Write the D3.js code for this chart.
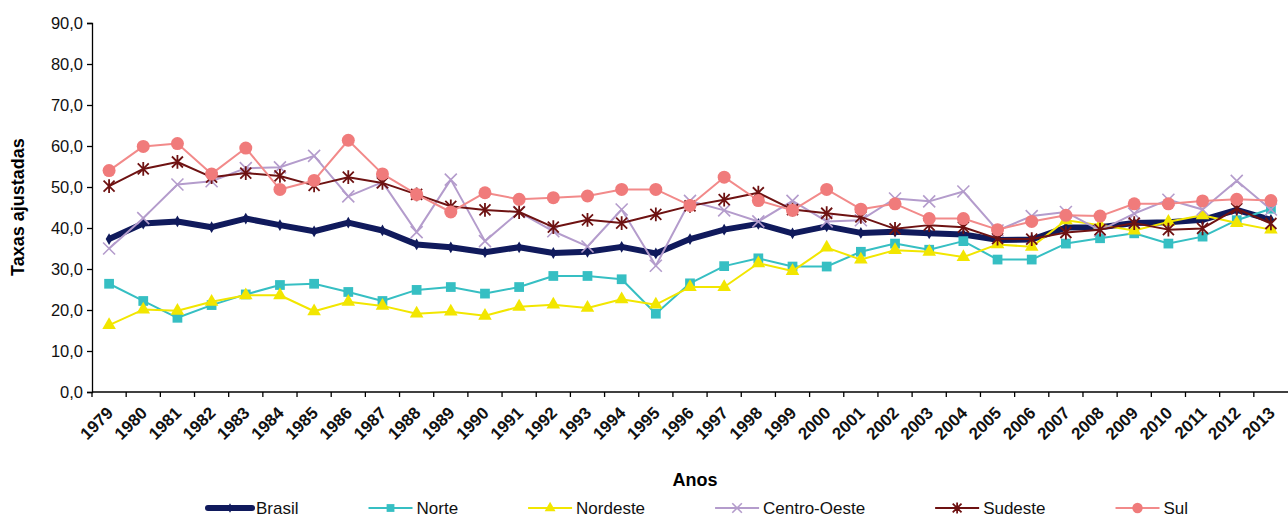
<!DOCTYPE html>
<html>
<head>
<meta charset="utf-8">
<script src="https://cdn.jsdelivr.net/npm/d3@7"></script>
<style>
  body { margin: 0; background: #fff; }
  svg { display: block; font-family: "Liberation Sans", Arial, sans-serif; }
</style>
</head>
<body>
<svg id="chart" width="1288" height="517"></svg>
<script>
// values
const years = ["1979","1980","1981","1982","1983","1984","1985","1986","1987","1988",
  "1989","1990","1991","1992","1993","1994","1995","1996","1997","1998","1999","2000",
  "2001","2002","2003","2004","2005","2006","2007","2008","2009","2010","2011","2012","2013"];

const brasil = [37.3, 41.1, 41.6, 40.2, 42.3, 40.7, 39.2, 41.3, 39.4, 36.0, 35.3, 34.1, 35.3, 33.9, 34.2, 35.4, 33.8,
  37.3, 39.6, 41.0, 38.7, 40.4, 38.8, 39.1, 38.7, 38.4, 37.1, 37.2, 40.1, 40.2, 41.2, 41.4, 42.0, 44.4, 42.0];
const norte = [26.4, 22.2, 18.1, 21.2, 23.8, 26.1, 26.4, 24.4, 22.2, 24.9, 25.6, 24.0, 25.6, 28.3, 28.3, 27.5, 19.1,
  26.5, 30.7, 32.6, 30.6, 30.6, 34.2, 36.2, 34.7, 36.8, 32.3, 32.3, 36.2, 37.5, 38.7, 36.2, 37.9, 41.9, 44.7];
const nordeste = [16.3, 20.1, 19.8, 22.0, 23.6, 23.6, 19.7, 22.0, 21.0, 19.1, 19.6, 18.6, 20.8, 21.3, 20.5, 22.6, 21.3,
  25.6, 25.6, 31.4, 29.5, 35.2, 32.3, 34.6, 34.2, 32.9, 36.0, 35.4, 41.9, 40.7, 39.4, 41.5, 43.1, 41.2, 39.6];
const centroOeste = [35.0, 42.4, 50.6, 51.4, 54.6, 54.8, 57.6, 47.7, 51.2, 39.0, 51.8, 36.8, 43.9, 39.2, 35.5, 44.5, 30.8,
  46.6, 44.3, 41.6, 46.6, 41.6, 41.9, 47.2, 46.5, 48.9, 39.4, 42.9, 43.9, 39.4, 43.5, 46.9, 44.5, 51.5, 44.5];
const sudeste = [50.2, 54.4, 56.1, 52.4, 53.4, 52.7, 50.4, 52.4, 51.0, 48.2, 45.3, 44.4, 43.9, 40.2, 42.0, 41.2, 43.3,
  45.4, 46.9, 48.6, 44.5, 43.6, 42.7, 39.8, 40.7, 40.2, 37.4, 37.3, 38.9, 39.6, 41.2, 39.6, 39.9, 44.7, 41.1];
const sul = [54.0, 59.9, 60.6, 53.2, 59.5, 49.4, 51.6, 61.4, 53.2, 48.2, 43.9, 48.6, 47.0, 47.4, 47.8, 49.4, 49.4,
  45.5, 52.4, 46.7, 44.3, 49.4, 44.6, 45.9, 42.3, 42.3, 39.6, 41.6, 43.1, 42.9, 45.9, 45.9, 46.6, 47.0, 46.7];

const yTicks = [0, 10, 20, 30, 40, 50, 60, 70, 80, 90];

const series = [
  { name: "Brasil", values: brasil, color: "#101a5c", width: 6, marker: "diamond" },
  { name: "Norte", values: norte, color: "#36bfc3", width: 2, marker: "square" },
  { name: "Nordeste", values: nordeste, color: "#f2e600", width: 2, marker: "triangle" },
  { name: "Centro-Oeste", values: centroOeste, color: "#b49ccc", width: 2, marker: "x" },
  { name: "Sudeste", values: sudeste, color: "#6e1212", width: 2, marker: "star" },
  { name: "Sul", values: sul, color: "#f07b7b", width: 2, marker: "circle" }
];

const svg = d3.select("#chart");
const plotLeft = 92, plotRight = 1288, plotTop = 23, plotBottom = 392;

const x = d3.scaleBand().domain(years).range([plotLeft, plotRight]);
const y = d3.scaleLinear().domain([0, 90]).range([plotBottom, plotTop]);
const cx = d => x(d) + x.bandwidth() / 2;

const br = d3.formatLocale({ decimal: ",", thousands: ".", grouping: [3], currency: ["R$", ""] });
const fmt = br.format(".1f");

// y axis
const yAxis = svg.append("g")
  .attr("transform", `translate(${plotLeft},0)`)
  .call(d3.axisLeft(y).tickValues(yTicks).tickFormat(fmt).tickSize(5).tickPadding(4));
yAxis.select(".domain").attr("stroke", "#000").attr("stroke-width", 1.3);
yAxis.selectAll(".tick line").attr("stroke", "#000").attr("stroke-width", 1.3);
yAxis.selectAll("text").attr("font-size", 16.5).attr("fill", "#111").attr("font-family", "Liberation Sans, Arial");

// x axis: ticks between categories, labels rotated
const xAxis = svg.append("g").attr("transform", `translate(0,${plotBottom})`);
xAxis.append("line").attr("x1", plotLeft).attr("x2", plotRight).attr("stroke", "#000").attr("stroke-width", 1.3);
xAxis.selectAll("line.tk")
  .data(years)
  .join("line")
  .attr("class", "tk")
  .attr("x1", d => x(d)).attr("x2", d => x(d))
  .attr("y1", 0).attr("y2", 5)
  .attr("stroke", "#000").attr("stroke-width", 1.3);
xAxis.selectAll("text")
  .data(years)
  .join("text")
  .attr("transform", d => `translate(${cx(d) + 5},22) rotate(-45)`)
  .attr("text-anchor", "end")
  .attr("font-size", 17)
  .attr("font-weight", "bold")
  .attr("fill", "#111")
  .text(d => d);

// axis titles
svg.append("text")
  .attr("x", 695).attr("y", 486)
  .attr("text-anchor", "middle")
  .attr("font-size", 18).attr("font-weight", "bold")
  .text("Anos");
svg.append("text")
  .attr("transform", "translate(24,207) rotate(-90)")
  .attr("text-anchor", "middle")
  .attr("font-size", 18).attr("font-weight", "bold")
  .text("Taxas ajustadas");

// marker drawing
function drawMarker(g, s, scale) {
  const k = scale || 1;
  if (s.marker === "diamond") {
    g.append("path").attr("d", d3.symbol(d3.symbolDiamond, 40 * k * k)()).attr("fill", s.color);
  } else if (s.marker === "square") {
    g.append("path").attr("d", d3.symbol(d3.symbolSquare, 95 * k * k)()).attr("fill", s.color);
  } else if (s.marker === "triangle") {
    g.append("path").attr("d", d3.symbol(d3.symbolTriangle, 80 * k * k)()).attr("fill", s.color);
  } else if (s.marker === "circle") {
    g.append("circle").attr("r", 6.5 * k).attr("fill", s.color);
  } else if (s.marker === "x") {
    const r = 6 * k;
    g.append("path").attr("d", `M${-r},${-r}L${r},${r}M${-r},${r}L${r},${-r}`)
      .attr("stroke", s.color).attr("stroke-width", 1.6).attr("fill", "none");
  } else if (s.marker === "star") {
    const r = 5.5 * k;
    g.append("path").attr("d", `M${-r},${-r}L${r},${r}M${-r},${r}L${r},${-r}M0,${-r * 1.25}L0,${r * 1.25}`)
      .attr("stroke", s.color).attr("stroke-width", 1.8).attr("fill", "none");
  }
}

const line = d3.line().x((v, i) => cx(years[i])).y(v => y(v));

series.forEach(s => {
  const g = svg.append("g");
  g.append("path")
    .attr("d", line(s.values))
    .attr("fill", "none")
    .attr("stroke", s.name === "Sul" ? "#f28a8a" : s.color)
    .attr("stroke-width", s.width)
    .attr("stroke-linejoin", "round");
  s.values.forEach((v, i) => {
    const m = g.append("g").attr("transform", `translate(${cx(years[i])},${y(v)})`);
    drawMarker(m, s);
  });
});

// legend
const legendY = 508;
let lx = 208;
series.forEach(s => {
  const g = svg.append("g").attr("transform", `translate(${lx},${legendY})`);
  g.append("line").attr("x1", 0).attr("x2", 44).attr("y1", 0).attr("y2", 0)
    .attr("stroke", s.name === "Sul" ? "#f28a8a" : s.color)
    .attr("stroke-width", s.width)
    .attr("stroke-linecap", s.name === "Brasil" ? "round" : "butt");
  const m = g.append("g").attr("transform", "translate(22,0)");
  drawMarker(m, s, 0.8);
  const t = g.append("text").attr("x", 48).attr("y", 6)
    .attr("font-size", 17).attr("fill", "#111").text(s.name);
  lx += 48 + t.node().getComputedTextLength() + 70;
});
</script>
</body>
</html>
